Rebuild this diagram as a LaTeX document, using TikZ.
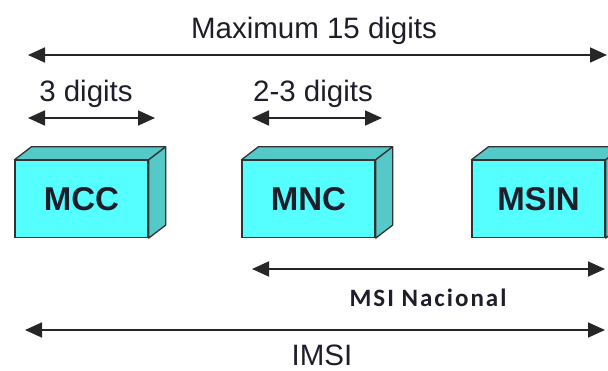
\documentclass[tikz,border=0pt]{standalone}
\usepackage{fontspec}
\setmainfont{Liberation Sans}
\newfontfamily\calib[LetterSpace=8]{Carlito}
\usetikzlibrary{arrows.meta}
\definecolor{facefront}{HTML}{55FFFF}
\definecolor{faceshade}{HTML}{55C8C8}
\definecolor{edgegray}{HTML}{333333}
\definecolor{ink}{HTML}{1E1E2A}
\begin{document}
\begin{tikzpicture}[x=1pt,y=-1pt,
  front/.style={draw=edgegray, line width=1.3pt, fill=facefront,
    minimum width=133pt, minimum height=77pt, inner sep=0pt,
    font=\fontsize{33}{36}\selectfont\bfseries, text=ink},
  shadeface/.style={draw=edgegray, line width=1.3pt, fill=faceshade, line join=round},
  span/.style={draw=black!85, line width=1.8pt,
    {Triangle[length=17pt,width=15pt]}-{Triangle[length=17pt,width=15pt]}},
  lbl/.style={font=\fontsize{29.5}{32}\selectfont, text=ink, inner sep=0pt, anchor=base}
]
\useasboundingbox (0,0) rectangle (608,371);
\begin{scope}
  \clip (0,0) rectangle (608,371);
  % three 3D blocks: front face as a node, top and side faces behind it
  \foreach \n/\t/\x in {mcc/MCC/81.5, mnc/MNC/308.5, msin/MSIN/538.5}{
    \node[front] (\n) at (\x,199) {\t};
    \draw[shadeface] (\n.north west) -- ++(17,-13) -- ([shift={(17,-13)}]\n.north east)
      -- (\n.north east) -- cycle;
    \draw[shadeface] (\n.north east) -- ([shift={(17,-13)}]\n.north east)
      -- ([shift={(17,-13)}]\n.south east) -- (\n.south east) -- cycle;
  }
\end{scope}

% end points of the dimension lines
\coordinate (maxL) at (28,55);   \coordinate (maxR) at (607,55);
\coordinate (mccL) at (28,118);  \coordinate (mccR) at (155,118);
\coordinate (mncL) at (252,118); \coordinate (mncR) at (382,118);
\coordinate (nacL) at (252,269); \coordinate (nacR) at (605,269);
\coordinate (imsiL) at (25,330); \coordinate (imsiR) at (605,330);

\draw[span] (maxL) -- (maxR);
\draw[span] (mccL) -- (mccR);
\draw[span] (mncL) -- (mncR);
\draw[span] (nacL) -- (nacR);
\draw[span] (imsiL) -- (imsiR);

\node[lbl] (tmax) at (314,39) {Maximum 15 digits};
\node[lbl] (tmcc) at (86,102) {3 digits};
\node[lbl] (tmnc) at (313,102) {2-3 digits};
\node[lbl, font=\calib\fontsize{25}{28}\selectfont\bfseries] (tnac) at (428,307) {MSI Nacional};
\node[lbl] (timsi) at (322,366) {IMSI};
\end{tikzpicture}
\end{document}
